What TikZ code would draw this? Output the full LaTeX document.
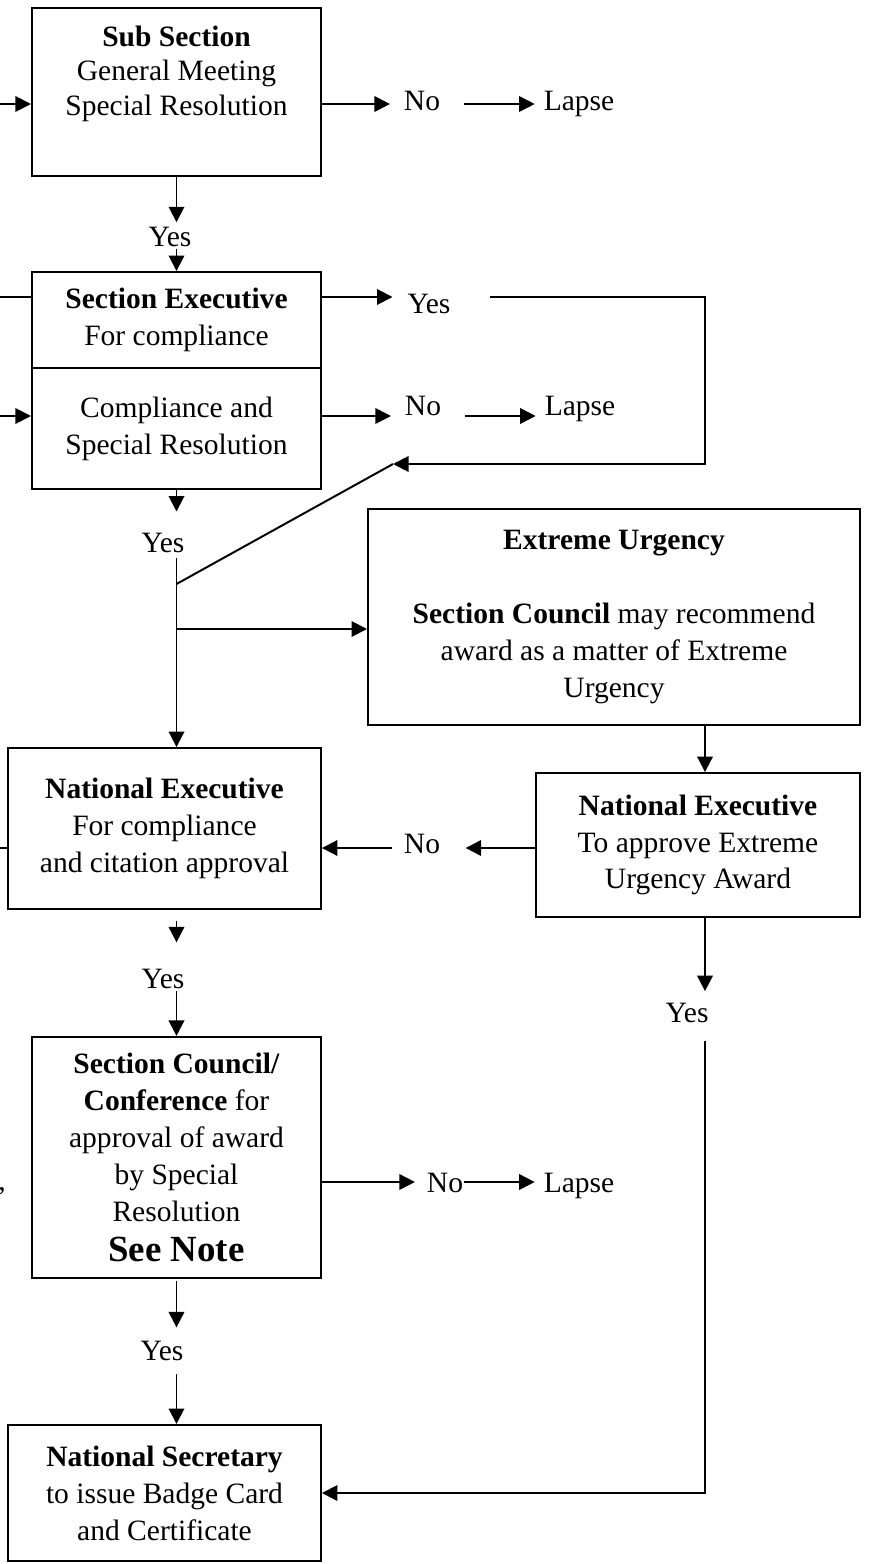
\documentclass[tikz,border=0pt]{standalone}
\usepackage{fontspec}
\setmainfont{Liberation Serif}
\usetikzlibrary{arrows.meta}
\tikzset{
>={Triangle[length=6.3pt,width=6.3pt]}, % filled arrow heads
every node/.style={font=\fontsize{12}{15}\selectfont}, % Times-like text
box/.style args={#1 and #2}{draw, inner sep=0pt, align=center, minimum width=#1, minimum height=#2},
lbl/.style={inner sep=0pt, anchor=base}, % Yes / No / Lapse
}

\begin{document}
\begin{tikzpicture}[x=0.4065pt, y=-0.4065pt, line width=0.8pt]
\useasboundingbox (0,0) rectangle (871,1564);
		% boxes
		\node[box=117.5pt and 68.3pt] (subsec) at (176.5,92) {};
		\node[align=center, inner sep=0pt, anchor=north, font=\fontsize{12}{14}\selectfont] (subsectxt) at (176.5,25) {\textbf{Sub Section}\\General Meeting\\Special Resolution};
		\node[box=117.5pt and 39pt] (secexec) at (176.5,320) {\textbf{Section Executive}\\For compliance};
		\node[box=117.5pt and 49.2pt] (seccomp) at (176.5,428.5) {Compliance and\\Special Resolution};
		\node[box=200pt and 87.8pt] (urgent) at (614,617) {\textbf{Extreme Urgency}\\[15pt]\textbf{Section Council} may recommend\\award as a matter of Extreme\\Urgency};
		\node[box=131.7pt and 58.5pt] (natexu) at (698,845) {\textbf{National Executive}\\To approve Extreme\\Urgency Award};
		\node[box=127.2pt and 65.4pt] (natexc) at (164.5,828.5) {\textbf{National Executive}\\For compliance\\and citation approval};
		\node[box=117.5pt and 98pt] (seccouncil) at (176.5,1157.5) {\textbf{Section Council/}\\\textbf{Conference} for\\approval of award\\by Special\\Resolution\\[1.5pt]{\fontsize{15}{15}\selectfont\textbf{See Note}}};
		\node[box=127.2pt and 55.3pt] (natsec) at (164.5,1493) {\textbf{National Secretary}\\to issue Badge Card\\and Certificate};
		% answers
		\node[lbl] (noA) at (422,111) {No};
		\node[lbl] (lapseA) at (579,111) {Lapse};
		\node[lbl] (yesA) at (170,247) {Yes};
		\node[lbl] (yesSE) at (429,313) {Yes};
		\node[lbl] (noSC) at (423,415) {No};
		\node[lbl] (lapseSC) at (580,415) {Lapse};
		\node[lbl] (yesSC) at (163,552) {Yes};
		\node[lbl] (noNE) at (422,853) {No};
		\node[lbl] (yesNE) at (163,988) {Yes};
		\node[lbl] (yesUR) at (687,1022) {Yes};
		\node[lbl] (noCC) at (445,1192) {No};
		\node[lbl] (lapseCC) at (579,1192) {Lapse};
		\node[lbl] (yesCC) at (162,1360) {Yes};
		\node[lbl] (cut) at (2,1190) {,};
		% rows and bends
		\coordinate (rowA) at (0,104);
		\coordinate (rowSE) at (0,297);
		\coordinate (rowSC) at (0,416);
		\coordinate (rowNE) at (0,848);
		\coordinate (rowCC) at (0,1182);
		\coordinate (colR) at (705,0);
		\coordinate (back) at (393,464);
		\coordinate (fork) at (176.5,584);
		\coordinate (branch) at (176.5,629);
		% sideways
		\draw[->] (rowA) -- (rowA -| subsec.west);
		\draw[->, shorten >=5.3pt] (rowA -| subsec.east) -- (rowA -| noA.west);
		\draw[->, shorten <=9.3pt, shorten >=3.3pt] (rowA -| noA.east) -- (rowA -| lapseA.west);
		\draw (rowSE) -- (rowSE -| secexec.west);
		\draw[->, shorten >=5.7pt] (rowSE -| secexec.east) -- (rowSE -| yesSE.west);
		\draw[->, shorten <=15.5pt] (rowSE -| yesSE.east) -| (colR |- back) -- (back);
		\draw (back) -- (fork);
		\draw[->] (rowSC) -- (rowSC -| seccomp.west);
		\draw[->, shorten >=5.3pt] (rowSC -| seccomp.east) -- (rowSC -| noSC.west);
		\draw[->, shorten <=9.3pt, shorten >=3.3pt] (rowSC -| noSC.east) -- (rowSC -| lapseSC.west);
		\draw[->, shorten >=10pt] (rowNE -| natexu.west) -- (rowNE -| noNE.east);
		\draw[->, shorten <=4.5pt] (rowNE -| noNE.west) -- (rowNE -| natexc.east);
		\draw (rowNE) -- (rowNE -| natexc.west);
		\draw[->, shorten >=4.5pt] (rowCC -| seccouncil.east) -- (rowCC -| noCC.west);
		\draw[->, shorten >=3.3pt] (rowCC -| noCC.east) -- (rowCC -| lapseCC.west);
		% downwards
		\draw[->, shorten >=1.8pt] (subsec.south) -- (subsec.south |- yesA.north);
		\draw[->, shorten <=0.4pt] (secexec.north |- yesA.south) -- (secexec.north);
		\draw[->, shorten >=8.2pt] (seccomp.south) -- (seccomp.south |- yesSC.north);
		\draw[->, shorten <=2pt] (seccomp.south |- yesSC.south) -- (seccomp.south |- natexc.north);
		\draw[->] (branch) -- (branch -| urgent.west);
		\draw[->] (colR |- urgent.south) -- (colR |- natexu.north);
		\draw[->, shorten >=4.3pt] (colR |- natexu.south) -- (colR |- yesUR.north);
		\draw[->, shorten <=7.3pt] (colR |- yesUR.south) |- (natsec.east);
		\draw[->, shorten <=4.5pt, shorten >=10.3pt] (seccomp.south |- natexc.south) -- (seccomp.south |- yesNE.north);
		\draw[->, shorten <=0.8pt] (seccouncil.north |- yesNE.south) -- (seccouncil.north);
		\draw[->, shorten <=0.8pt, shorten >=5pt] (seccouncil.south) -- (seccouncil.south |- yesCC.north);
		\draw[->, shorten <=5.3pt] (seccouncil.south |- yesCC.south) -- (seccouncil.south |- natsec.north);
\end{tikzpicture}
\end{document}
